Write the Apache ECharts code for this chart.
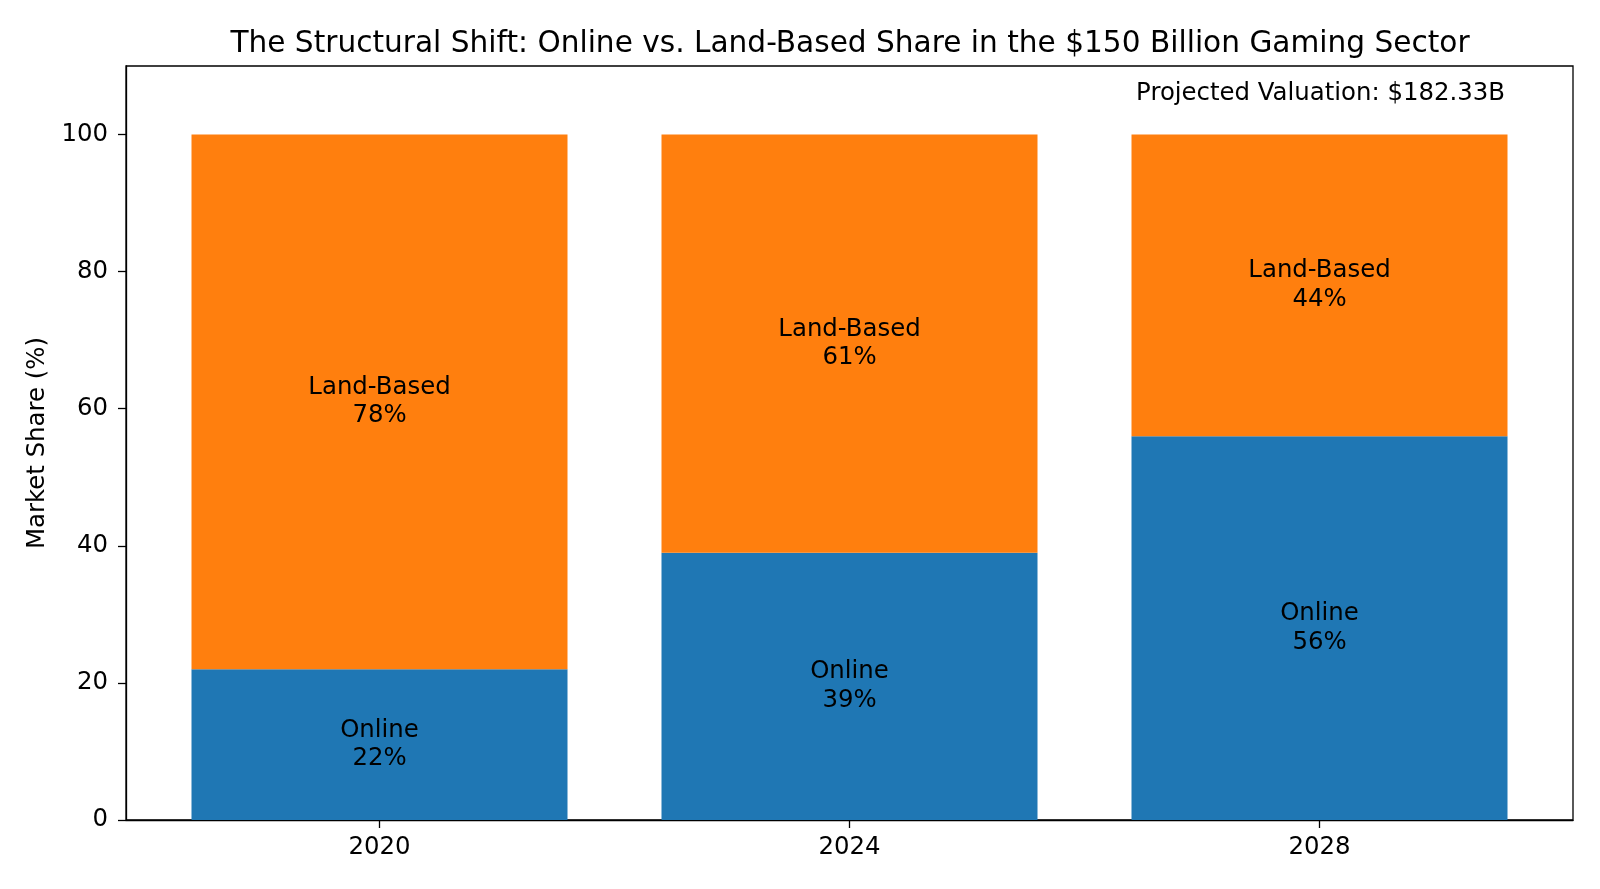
<!DOCTYPE html>
<html>
<head>
<meta charset="utf-8">
<script src="https://cdn.jsdelivr.net/npm/echarts@6/dist/echarts.min.js"></script>
<style>html,body{margin:0;padding:0;background:#fff}#c{width:1600px;height:889px}</style>
</head>
<body>
<div id="c"></div>
<script>
const categories = ['2020', '2024', '2028'];
const onlineShare = [22, 39, 56];
const landBasedShare = [78, 61, 44];
const yTicks = [0, 20, 40, 60, 80, 100];
const titleText = 'The Structural Shift: Online vs. Land-Based Share in the $150 Billion Gaming Sector';
const noteText = 'Projected Valuation: $182.33B';

const FONT = 'DejaVu Sans';
const FS = 24.4;
const chart = echarts.init(document.getElementById('c'), null, {renderer: 'canvas'});
const labelFmt = p => p.seriesName + '\n' + p.value + '%';
const barLabel = {show: true, position: 'inside', formatter: labelFmt, fontFamily: FONT, fontSize: FS, lineHeight: 28.5, color: '#000'};
chart.setOption({
  animation: false,
  backgroundColor: '#fff',
  title: {
    text: titleText,
    left: 845,
    top: 24,
    textAlign: 'center',
    textStyle: {fontFamily: FONT, fontSize: 29.6, fontWeight: 'normal', color: '#000'}
  },
  grid: [
    {left: 126, right: 27, top: 66, bottom: 69, show: true, borderColor: '#000', borderWidth: 1.3, backgroundColor: 'transparent'},
    {left: 144.5, right: 45.5, top: 66, bottom: 69}
  ],
  xAxis: [
    {
      gridIndex: 0, type: 'value', min: 0, max: 1,
      splitLine: {show: false},
      axisLine: {show: true, onZero: false, lineStyle: {color: '#000', width: 1.3}},
      axisTick: {show: false}, axisLabel: {show: false}
    },
    {
      gridIndex: 1, type: 'category', data: categories, boundaryGap: true,
      axisLine: {show: false},
      axisTick: {show: true, alignWithLabel: true, length: 8, lineStyle: {color: '#000', width: 1.3}},
      axisLabel: {fontFamily: FONT, fontSize: FS, color: '#000', margin: 16}
    }
  ],
  yAxis: [
    {
      gridIndex: 0, type: 'value', min: 0, max: 110,
      name: 'Market Share (%)', nameLocation: 'middle', nameGap: 76, nameRotate: 90,
      nameTextStyle: {fontFamily: FONT, fontSize: FS, color: '#000'},
      splitLine: {show: false},
      axisLine: {show: true, onZero: false, lineStyle: {color: '#000', width: 1.3}},
      axisTick: {show: true, length: 8, lineStyle: {color: '#000', width: 1.3}, customValues: yTicks},
      axisLabel: {customValues: yTicks, fontFamily: FONT, fontSize: FS, color: '#000', margin: 18}
    },
    {
      gridIndex: 1, type: 'value', min: 0, max: 110, show: false
    }
  ],
  series: [
    {
      name: 'Online', type: 'bar', stack: 'total', xAxisIndex: 1, yAxisIndex: 1, barWidth: '80%',
      itemStyle: {color: '#1f77b4'}, label: barLabel,
      data: onlineShare
    },
    {
      name: 'Land-Based', type: 'bar', stack: 'total', xAxisIndex: 1, yAxisIndex: 1, barWidth: '80%',
      itemStyle: {color: '#ff7f0e'}, label: barLabel,
      data: landBasedShare
    }
  ],
  graphic: [{
    type: 'text', right: 95, top: 82,
    style: {text: noteText, fontFamily: FONT, fontSize: FS, fill: '#000'}
  }]
});
</script>
</body>
</html>
